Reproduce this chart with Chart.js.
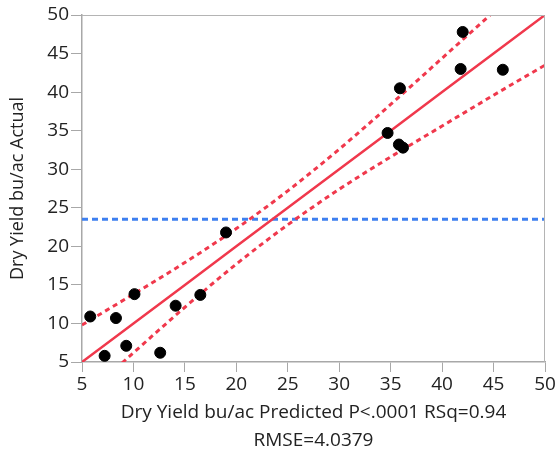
<!DOCTYPE html>
<html>
<head>
<meta charset="utf-8">
<script src="https://cdn.jsdelivr.net/npm/chart.js@4/dist/chart.umd.min.js"></script>
<style>
html,body{margin:0;padding:0;background:#fff;}
#wrap{width:559px;height:456px;}
</style>
</head>
<body>
<div id="wrap"><canvas id="c" width="559" height="456"></canvas></div>
<script>
const predicted = [5.8, 7.2, 8.3, 9.3, 10.1, 12.6, 14.1, 16.5, 19.0, 34.7, 35.8, 36.2, 35.9, 41.8, 42.0, 45.9];
const actual    = [10.9, 5.8, 10.7, 7.1, 13.8, 6.2, 12.3, 13.7, 21.8, 34.7, 33.2, 32.8, 40.5, 43.0, 47.8, 42.9];
// Fit line and confidence curves (estimated)
const curveX    = [5, 10, 15, 20, 25, 30, 35, 40, 45, 50];
const fitY      = [5, 10, 15, 20, 25, 30, 35, 40, 45, 50];
const upperY    = [9.8, 13.8, 17.9, 22.3, 27.2, 32.6, 38.4, 44.4, 50.4, 56.5];
const lowerY    = [0.2, 6.2, 12.1, 17.7, 22.8, 27.4, 31.6, 35.6, 39.6, 43.5];
const meanX     = [5, 50];
const meanY     = [23.5, 23.5];
const tickVals  = [5, 10, 15, 20, 25, 30, 35, 40, 45, 50];
const xTitle    = ['Dry Yield bu/ac Predicted P<.0001 RSq=0.94', 'RMSE=4.0379'];
const yTitle    = 'Dry Yield bu/ac Actual';

const pts = (xs, ys) => xs.map((x, i) => ({x: x, y: ys[i]}));
const RED = 'rgb(240,56,76)';
const BLUE = 'rgb(62,128,240)';
const FONT = "'Open Sans', 'DejaVu Sans', sans-serif";

const frame = {
  id: 'frame',
  afterDraw(chart) {
    const a = chart.chartArea, ctx = chart.ctx;
    ctx.save();
    ctx.strokeStyle = '#b4b4b4';
    ctx.lineWidth = 1;
    ctx.beginPath();
    ctx.moveTo(a.left, a.top + 0.5);
    ctx.lineTo(a.right - 0.5, a.top + 0.5);
    ctx.lineTo(a.right - 0.5, a.bottom);
    ctx.stroke();
    ctx.restore();
  }
};

new Chart(document.getElementById('c'), {
  type: 'scatter',
  data: {
    datasets: [
      { data: pts(predicted, actual), backgroundColor: '#000', borderColor: '#000',
        pointRadius: 5.5, pointHoverRadius: 5.5, order: 0 },
      { data: pts(curveX, fitY), showLine: true, borderColor: RED, borderWidth: 2.5,
        pointRadius: 0, order: 1 },
      { data: pts(curveX, upperY), showLine: true, borderColor: RED, borderWidth: 3,
        borderDash: [5, 4], pointRadius: 0, cubicInterpolationMode: 'monotone', order: 2 },
      { data: pts(curveX, lowerY), showLine: true, borderColor: RED, borderWidth: 3,
        borderDash: [5, 4], pointRadius: 0, cubicInterpolationMode: 'monotone', order: 3 },
      { data: pts(meanX, meanY), showLine: true, borderColor: BLUE, borderWidth: 3,
        borderDash: [6, 4], pointRadius: 0, order: 4 }
    ]
  },
  options: {
    responsive: false,
    animation: false,
    events: [],
    layout: { padding: { top: 15, right: 14, left: 0, bottom: 0 } },
    plugins: { legend: { display: false }, tooltip: { enabled: false } },
    scales: {
      x: {
        type: 'linear', min: 5, max: 50,
        afterBuildTicks: s => { s.ticks = tickVals.map(v => ({value: v})); },
        afterFit: s => { s.height = 94; },
        grid: { display: true, drawOnChartArea: false, drawTicks: true, tickLength: 10, color: '#a8a8a8' },
        border: { display: true, color: '#a8a8a8', width: 1.5 },
        ticks: { color: '#222', font: { family: FONT, size: 19 }, padding: 1, maxRotation: 0 },
        title: { display: true, text: xTitle, color: '#222', font: { family: FONT, size: 19, lineHeight: 1.45 }, padding: { top: 0, bottom: 2 } }
      },
      y: {
        type: 'linear', min: 5, max: 50,
        afterBuildTicks: s => { s.ticks = tickVals.map(v => ({value: v})); },
        afterFit: s => { s.width = 82; },
        grid: { display: true, drawOnChartArea: false, drawTicks: true, tickLength: 11, color: '#a8a8a8' },
        border: { display: true, color: '#a8a8a8', width: 1.5 },
        ticks: { color: '#222', font: { family: FONT, size: 19 }, padding: 2 },
        title: { display: true, text: yTitle, color: '#222', font: { family: FONT, size: 18 }, padding: { top: 7, bottom: 2 } }
      }
    }
  },
  plugins: [frame]
});
</script>
</body>
</html>
